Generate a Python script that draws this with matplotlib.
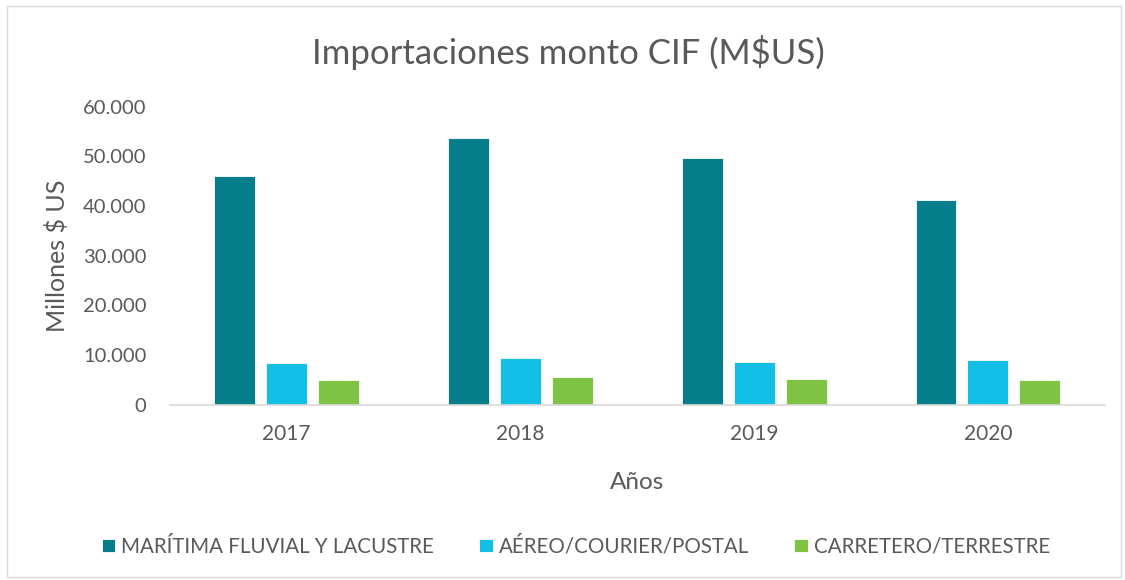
import numpy as np
import matplotlib.pyplot as plt
from matplotlib.patches import Rectangle

# datos
anios = ['2017', '2018', '2019', '2020']
maritima = [46000, 53700, 49700, 41200]
aereo = [8400, 9400, 8700, 9100]
carretero = [5000, 5600, 5200, 4900]

series = ['MARÍTIMA FLUVIAL Y LACUSTRE', 'AÉREO/COURIER/POSTAL', 'CARRETERO/TERRESTRE']
colores = ['#057D8B', '#13C0E5', '#7FC344']

plt.rcParams['font.family'] = ['Lato', 'DejaVu Sans']
gris = '#595959'

fig = plt.figure(figsize=(11.25, 5.8), dpi=100)
ax = fig.add_axes([0.151, 0.302, 0.831, 0.514])

x = np.arange(len(anios))
w = 0.175
paso = 0.222
for i, (datos, nombre) in enumerate(zip([maritima, aereo, carretero], series)):
    ax.bar(x + (i - 1) * paso, datos, w, color=colores[i], label=nombre,
           edgecolor='white', linewidth=0.6)

ax.set_xlim(-0.5, 3.5)
ax.set_ylim(0, 60000)
ax.set_yticks(np.arange(0, 60001, 10000))
ax.set_yticklabels([f'{v:,}'.replace(',', '.') for v in range(0, 60001, 10000)])
ax.set_xticks(x)
ax.set_xticklabels(anios)
ax.tick_params(length=0, labelsize=14.5, colors=gris)
ax.tick_params(axis='y', pad=17)
ax.tick_params(axis='x', labelsize=15, pad=14)
for s in ['top', 'right', 'left']:
    ax.spines[s].set_visible(False)
ax.spines['bottom'].set_color('#D9D9D9')
ax.spines['bottom'].set_linewidth(1.2)

ax.set_xlabel('Años', fontsize=17.5, color=gris, labelpad=20)
ax.set_ylabel('Millones $ US', fontsize=18, color=gris, labelpad=10)
fig.text(0.505, 0.91, 'Importaciones monto CIF (M$US)', ha='center', va='center',
         fontsize=25, color=gris)

fig.legend(loc='center', bbox_to_anchor=(0.512, 0.058), ncol=3, frameon=False,
           fontsize=14.8, handlelength=0.65, handleheight=0.65, handletextpad=0.3,
           columnspacing=2.2, labelcolor=gris)

fig.patches.append(Rectangle((0.006, 0.005), 0.99, 0.985, transform=fig.transFigure,
                             fill=False, edgecolor='#D9D9D9', linewidth=1))

plt.savefig('out.png', dpi=100)
